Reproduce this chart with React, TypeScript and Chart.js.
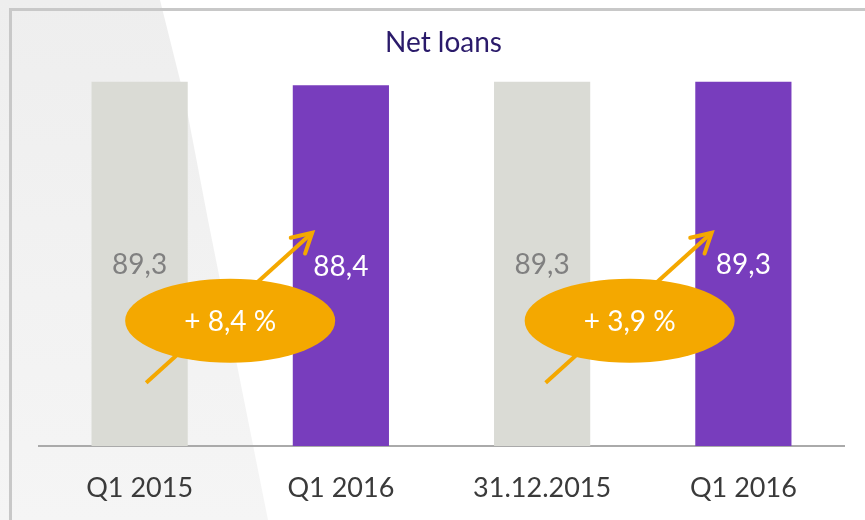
import React, { useEffect, useRef } from "react";
import { Chart, registerables } from "chart.js";

Chart.register(...registerables);

const title = "Net loans";
const categories = ["Q1 2015", "Q1 2016", "31.12.2015", "Q1 2016"];
const values = [89.3, 88.4, 89.3, 89.3];
const valueLabels = ["89,3", "88,4", "89,3", "89,3"];
const barColors = ["#DADBD5", "#783DBD", "#DADBD5", "#783DBD"];
const labelColors = ["#808080", "#FFFFFF", "#808080", "#FFFFFF"];
const growthLabels = ["+ 8,4 %", "+ 3,9 %"];
const growthAt = [0.45, 2.435];

const FONT = "Lato, 'Open Sans', sans-serif";
const ORANGE = "#F4A800";

const backgroundPlugin = {
  id: "bgDecor",
  beforeDraw(chart: any) {
    const { ctx, width, height } = chart;
    ctx.save();
    ctx.fillStyle = "#FFFFFF";
    ctx.fillRect(0, 0, width, height);
    const g = ctx.createLinearGradient(0, 0, 0, height);
    g.addColorStop(0, "#EEEEEE");
    g.addColorStop(1, "#F5F5F5");
    ctx.fillStyle = g;
    ctx.beginPath();
    ctx.moveTo(0, 0);
    ctx.lineTo(160, 0);
    ctx.lineTo(185, 100);
    ctx.lineTo(208, 220);
    ctx.lineTo(240, 380);
    ctx.lineTo(268, height);
    ctx.lineTo(0, height);
    ctx.closePath();
    ctx.fill();
    ctx.strokeStyle = "#C8C8C8";
    ctx.lineWidth = 3;
    ctx.beginPath();
    ctx.moveTo(10.5, height);
    ctx.lineTo(10.5, 9.5);
    ctx.lineTo(width, 9.5);
    ctx.stroke();
    ctx.restore();
  },
};

const titlePlugin = {
  id: "titleDecor",
  afterDraw(chart: any) {
    const { ctx, chartArea } = chart;
    ctx.save();
    ctx.fillStyle = "#2A1A6A";
    ctx.font = `28px ${FONT}`;
    ctx.textAlign = "center";
    ctx.textBaseline = "middle";
    ctx.fillText(title, (chartArea.left + chartArea.right) / 2 + 2, 43);
    ctx.restore();
  },
};

const valueLabelPlugin = {
  id: "valueLabels",
  afterDatasetsDraw(chart: any) {
    const { ctx } = chart;
    const meta = chart.getDatasetMeta(0);
    ctx.save();
    ctx.font = `28px ${FONT}`;
    ctx.textAlign = "center";
    ctx.textBaseline = "middle";
    meta.data.forEach((el: any, i: number) => {
      ctx.fillStyle = labelColors[i];
      ctx.fillText(valueLabels[i], el.x, (el.y + el.base) / 2 + 1);
    });
    ctx.restore();
  },
};

const growthPlugin = {
  id: "growth",
  afterDraw(chart: any) {
    const { ctx } = chart;
    const xs = chart.scales.x;
    const ys = chart.scales.y;
    ctx.save();
    growthLabels.forEach((txt, i) => {
      const cx = xs.getPixelForValue(growthAt[i]);
      const cy = ys.getPixelForValue(30.7);
      const sx = cx - 84;
      const sy = cy + 62;
      const ex = cx + 82;
      const ey = cy - 88;
      ctx.strokeStyle = ORANGE;
      ctx.lineWidth = 4;
      ctx.lineCap = "butt";
      ctx.beginPath();
      ctx.moveTo(sx, sy);
      ctx.lineTo(ex, ey);
      ctx.stroke();
      const back = Math.atan2(sy - ey, sx - ex);
      const arm = 22;
      const spread = (29 * Math.PI) / 180;
      ctx.lineCap = "round";
      ctx.lineJoin = "miter";
      ctx.beginPath();
      ctx.moveTo(ex + arm * Math.cos(back + spread), ey + arm * Math.sin(back + spread));
      ctx.lineTo(ex, ey);
      ctx.lineTo(ex + arm * Math.cos(back - spread), ey + arm * Math.sin(back - spread));
      ctx.stroke();

      ctx.fillStyle = ORANGE;
      ctx.beginPath();
      ctx.ellipse(cx, cy, 105, 42, 0, 0, Math.PI * 2);
      ctx.fill();

      ctx.fillStyle = "#FFFFFF";
      ctx.font = `28px ${FONT}`;
      ctx.textAlign = "center";
      ctx.textBaseline = "middle";
      ctx.fillText(txt, cx, cy + 1);
    });
    ctx.restore();
  },
};

export default function App() {
  const ref = useRef<HTMLCanvasElement | null>(null);
  useEffect(() => {
    if (!ref.current) return;
    const chart = new Chart(ref.current, {
      type: "bar",
      data: {
        labels: categories,
        datasets: [
          {
            data: values,
            backgroundColor: barColors,
            borderWidth: 0,
            categoryPercentage: 1,
            barPercentage: 0.478,
          },
        ],
      },
      options: {
        responsive: false,
        animation: false,
        devicePixelRatio: 1,
        layout: { padding: { left: 39, right: 21, top: 38, bottom: 16 } },
        plugins: {
          legend: { display: false },
          title: { display: false },
          tooltip: { enabled: false },
        },
        scales: {
          x: {
            grid: { display: false, drawTicks: false, tickLength: 0 },
            border: { display: true, color: "#AAAAAA", width: 2 },
            ticks: {
              color: "#3A3A3A",
              font: { family: FONT, size: 27 },
              padding: 26,
            },
            afterFit(scale: any) {
              scale.height = 58;
            },
          },
          y: {
            display: false,
            min: 0,
            max: 100,
          },
        },
      },
      plugins: [backgroundPlugin, titlePlugin, valueLabelPlugin, growthPlugin],
    });
    return () => chart.destroy();
  }, []);
  return (
    <div style={{ position: "absolute", left: 0, top: 0, width: 865, height: 520 }}>
      <canvas ref={ref} width={865} height={520} />
    </div>
  );
}
